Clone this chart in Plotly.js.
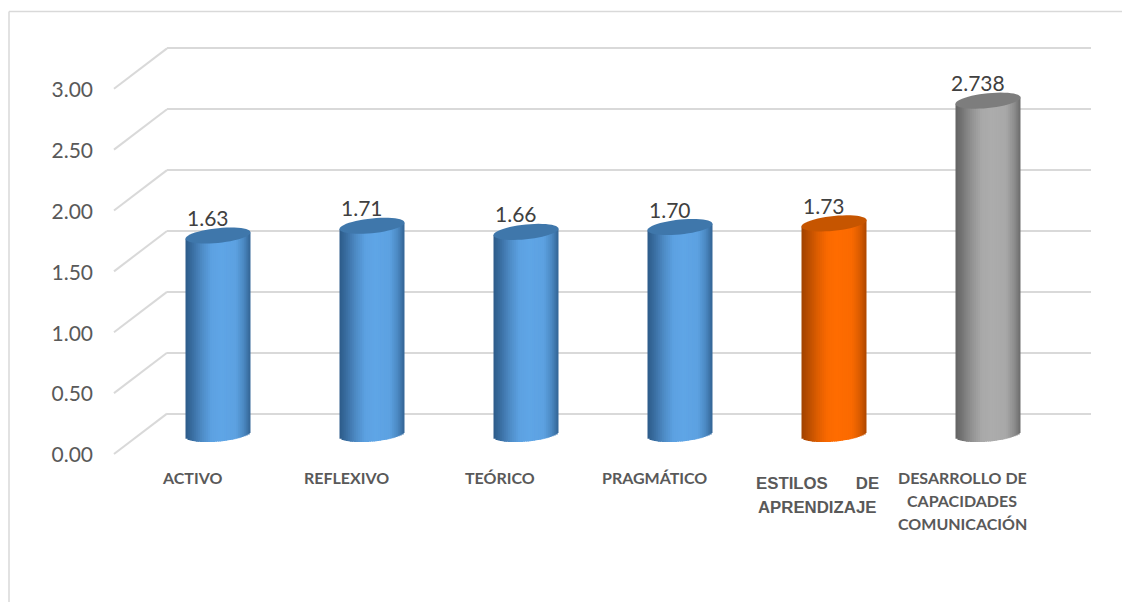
<!DOCTYPE html>
<html><head><meta charset="utf-8">
<script src="https://cdn.plot.ly/plotly-3.0.1.min.js"></script>
<style>html,body{margin:0;padding:0;background:#fff}#c{width:1122px;height:602px}</style>
</head><body><div id="c"></div>
<script>
const categories = ['ACTIVO','REFLEXIVO','TEÓRICO','PRAGMÁTICO','ESTILOS DE APRENDIZAJE','DESARROLLO DE CAPACIDADES COMUNICACIÓN'];
const values = [1.63,1.71,1.66,1.70,1.73,2.738];
const valueLabels = ['1.63','1.71','1.66','1.70','1.73','2.738'];
const tickValues = [0,0.5,1,1.5,2,2.5,3];
const tickLabels = ['0.00','0.50','1.00','1.50','2.00','2.50','3.00'];
const categoryLines = [['ACTIVO'],['REFLEXIVO'],['TEÓRICO'],['PRAGMÁTICO'],
  ['ESTILOS\u00a0\u00a0\u00a0\u00a0\u00a0\u00a0DE','APRENDIZAJE'],['DESARROLLO DE','CAPACIDADES','COMUNICACIÓN']];

const W=1122,H=602, PX_PER_UNIT=121.75;
const px=v=>v/W, py=v=>1-v/H;
const pal={blue:{edge:[44,90,136],mid:[95,165,230],cap:'#3f77ab'},
           orange:{edge:[160,66,0],mid:[255,108,0],cap:'#c65500'},
           gray:{edge:[98,98,98],mid:[172,172,172],cap:'#7d7d7d'}};
const colors=[pal.blue,pal.blue,pal.blue,pal.blue,pal.orange,pal.gray];
const XUNIT=154, HALF=32.5/XUNIT, STRIPS=32;
const capTilt=3.2/PX_PER_UNIT, capB=7.4/PX_PER_UNIT, baseTilt=3/PX_PER_UNIT, baseB=7.5/PX_PER_UNIT;
// shading: 0 = edge, 1 = centre
function shade(u){
  const stops=[[-1,0.0],[-0.8,0.25],[-0.5,0.65],[-0.2,0.95],[0.1,1],[0.55,0.95],[0.8,0.6],[1,0.12]];
  for(let i=1;i<stops.length;i++){ if(u<=stops[i][0]){const a=stops[i-1],b=stops[i];return a[1]+(b[1]-a[1])*(u-a[0])/(b[0]-a[0]);} }
  return 0.12;
}
const mix=(c,t)=>{const r=c.edge.map((e,i)=>Math.round(e+(c.mid[i]-e)*t));return `rgb(${r[0]},${r[1]},${r[2]})`;};

const traces=[];
// invisible anchors so that the wall and tick axes exist
traces.push({type:'scatter',x:tickValues.map(()=>0),y:tickValues,xaxis:'x',yaxis:'y',mode:'markers',marker:{opacity:0,size:1},hoverinfo:'skip',showlegend:false});
traces.push({type:'scatter',x:tickValues.map(()=>0),y:tickValues,xaxis:'x',yaxis:'y2',mode:'markers',marker:{opacity:0,size:1},hoverinfo:'skip',showlegend:false});
// core bars carrying the values
traces.push({type:'bar',name:'valor',x:categories.map((c,i)=>i),y:values,width:HALF*1.4,xaxis:'x2',yaxis:'y3',
  marker:{color:colors.map(c=>mix(c,0.95)),line:{width:0}},customdata:categories,hovertemplate:'%{customdata}: %{y}<extra></extra>',showlegend:false});
// vertical shading strips forming each cylinder
for(let k=0;k<STRIPS;k++){
  const u=-1+(2*k+1)/STRIPS, arc=Math.sqrt(Math.max(0,1-u*u));
  const base=values.map(()=>baseTilt*u-baseB*arc);
  const top=values.map(v=>v+capTilt*u);
  const w=2*HALF/STRIPS;
  traces.push({type:'bar',x:values.map((v,i)=>i+u*HALF+(k<STRIPS-1?0.3*w:0)),base:base,y:top.map((t,i)=>t-base[i]),
    width:k<STRIPS-1?w*1.6:w,xaxis:'x2',yaxis:'y3',marker:{color:colors.map(c=>mix(c,shade(u))),line:{width:0}},
    hoverinfo:'skip',showlegend:false});
}
const shapes=[];
const line={color:'#d9d9d9',width:2};
const frame={color:'#d9d9d9',width:1.5};
// frame
shapes.push({type:'line',xref:'paper',yref:'paper',x0:px(9),x1:px(9),y0:py(11.5),y1:py(602),line:frame,layer:'below'});
shapes.push({type:'line',xref:'paper',yref:'paper',x0:px(9),x1:px(1122),y0:py(11.5),y1:py(11.5),line:frame,layer:'below'});
// perspective side wall
tickValues.forEach(t=>{
  shapes.push({type:'line',xref:'paper',yref:'paper',x0:px(114),x1:px(167),y0:py(454-t*PX_PER_UNIT),y1:py(413.6-t*PX_PER_UNIT),line:line,layer:'below'});
});
// cap ellipses
values.forEach((v,i)=>{
  let d='';
  for(let j=0;j<48;j++){
    const a=j/48*2*Math.PI, u=Math.cos(a);
    const X=i+HALF*u, Y=v+capTilt*u+capB*Math.sin(a);
    d+=(j?'L':'M')+X.toFixed(4)+','+Y.toFixed(4);
  }
  shapes.push({type:'path',path:d+'Z',xref:'x2',yref:'y3',fillcolor:colors[i].cap,line:{width:0},layer:'above'});
});
const annotations=[];
values.forEach((v,i)=>annotations.push({xref:'x2',yref:'y3',x:i,y:v,text:valueLabels[i],showarrow:false,xshift:-10,yshift:18,
  font:{family:'Lato',size:21,color:'#404040'},xanchor:'center',yanchor:'middle'}));
const lineStyle=[
 {s:-26,y:[477],f:'Lato',z:16},{s:-26,y:[477],f:'Lato',z:16},{s:-26,y:[477],f:'Lato',z:16},{s:-26,y:[477],f:'Lato',z:16},
 {s:-17,y:[483,507],f:'Liberation Sans',z:16.8},{s:-26,y:[477,500,523],f:'Lato',z:16}];
categoryLines.forEach((ls,i)=>ls.forEach((t,j)=>annotations.push({xref:'x2',yref:'paper',x:i,y:py(lineStyle[i].y[j]),text:'<b>'+t+'</b>',
  showarrow:false,xshift:lineStyle[i].s,xanchor:'center',yanchor:'middle',font:{family:lineStyle[i].f,size:lineStyle[i].z,color:'#595959'}})));

const y3lo=-0.2,y3hi=3.2, ylo=-0.05, yhi=3.05;
const layout={width:W,height:H,margin:{l:0,r:0,t:0,b:0},paper_bgcolor:'#fff',plot_bgcolor:'rgba(0,0,0,0)',
  barmode:'overlay',showlegend:false,hovermode:'closest',font:{family:'Lato'},
  xaxis2:{domain:[px(141),px(1065)],range:[-0.5,5.5],showticklabels:false,showgrid:false,zeroline:false,showline:false,ticks:'',anchor:'y3',fixedrange:true},
  xaxis:{domain:[px(167),px(1091)],range:[-0.5,5.5],showticklabels:false,showgrid:false,zeroline:false,showline:false,ticks:'',anchor:'y',fixedrange:true},
  yaxis:{domain:[py(413.6-ylo*PX_PER_UNIT),py(413.6-yhi*PX_PER_UNIT)],range:[ylo,yhi],tickmode:'array',tickvals:tickValues,showticklabels:false,showgrid:true,gridcolor:'#d9d9d9',gridwidth:2,zeroline:false,showline:false,ticks:'',anchor:'x',fixedrange:true},
  yaxis2:{domain:[py(455),py(455-3*PX_PER_UNIT)],range:[0,3],tickvals:tickValues,ticktext:tickLabels,tickmode:'array',showgrid:false,zeroline:false,showline:false,ticks:'',anchor:'free',position:px(93),side:'left',
    tickfont:{family:'Lato',size:21,color:'#595959'},fixedrange:true},
  yaxis3:{domain:[py(434-y3lo*PX_PER_UNIT),py(434-y3hi*PX_PER_UNIT)],range:[y3lo,y3hi],visible:false,showgrid:false,zeroline:false,anchor:'x2',fixedrange:true},
  shapes:shapes,annotations:annotations};
Plotly.newPlot('c',traces,layout,{displayModeBar:false,staticPlot:true});
</script></body></html>
